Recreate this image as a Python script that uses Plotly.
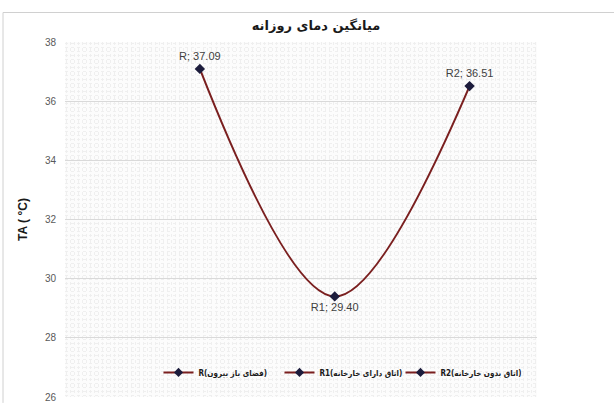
import plotly.graph_objects as go

categories = ["R", "R1", "R2"]
values = [37.09, 29.40, 36.51]
legend_names = ["R(فضای باز بیرون)", "R1(اتاق دارای خارخانه)", "R2(اتاق بدون خارخانه)"]
y_ticks = [26, 28, 30, 32, 34, 36, 38]
title_text = "میانگین دمای روزانه"
y_title = "TA ( °C)"

line_color = "#7a1f1f"
marker_color = "#1c1c3c"
font_fam = "Liberation Sans, DejaVu Sans, sans-serif"

x_pos = list(range(len(categories)))
labels = [f"{c}; {v:.2f}" for c, v in zip(categories, values)]
positions = ["top center", "bottom center", "top center"]

fig = go.Figure()
fig.add_trace(go.Scatter(
    x=x_pos, y=values, mode="lines+markers+text",
    line=dict(color=line_color, width=2, shape="spline", smoothing=1.0),
    marker=dict(symbol="diamond", size=8, color=marker_color),
    text=labels, textposition=positions,
    textfont=dict(size=11, color="#404040", family=font_fam),
    showlegend=False, cliponaxis=False,
))
for name in legend_names:
    fig.add_trace(go.Scatter(
        x=[None], y=[None], mode="lines+markers", name=name,
        line=dict(color=line_color, width=2),
        marker=dict(symbol="diamond", size=7, color=marker_color),
    ))

L, R, T, B = 65, 77, 42, 6
W, H = 614, 409
pw, ph = W - L - R, H - T - B

def px2x(px):
    return (px - L) / pw

def py2y(py):
    return (H - B - py) / ph

fig.update_layout(
    width=W, height=H,
    margin=dict(l=L, r=R, t=T, b=B),
    paper_bgcolor="white", plot_bgcolor="#fcfcfc",
    title=dict(text=title_text, x=px2x(316), xref="paper", xanchor="center",
               y=1 - 25 / H, yanchor="middle",
               font=dict(size=13, color="#1a1a1a", family="DejaVu Sans", weight="bold")),
    xaxis=dict(range=[-1, 2.5], showticklabels=False, ticks="",
               showgrid=False, zeroline=False, showline=False,
               minor=dict(dtick=0.03, tick0=0, showgrid=True, gridcolor="#efefef", griddash="dot", gridwidth=1)),
    yaxis=dict(range=[26, 38], tickvals=y_ticks, ticks="", showline=False,
               gridcolor="#d9d9d9", gridwidth=1, zeroline=False,
               tickfont=dict(size=10, color="#595959", family=font_fam),
               ticklabelstandoff=8,
               title=dict(text=y_title, standoff=14,
                          font=dict(size=12, color="#1a1a1a", family=font_fam, weight="bold")),
               minor=dict(dtick=0.135, showgrid=True, gridcolor="#efefef", griddash="dot", gridwidth=1)),
    legend=dict(orientation="h", x=px2x(340), xanchor="center", y=py2y(378), yanchor="middle",
                bgcolor="rgba(0,0,0,0)",
                font=dict(size=8, color="#1a1a1a", family="DejaVu Sans Condensed, DejaVu Sans", weight="bold"),
                itemwidth=30, entrywidth=76, tracegroupgap=0),
    shapes=[
        dict(type="line", xref="paper", yref="paper", x0=px2x(3), x1=px2x(614), y0=py2y(12), y1=py2y(12),
             line=dict(color="#d0d0d0", width=1)),
        dict(type="line", xref="paper", yref="paper", x0=px2x(3), x1=px2x(3), y0=py2y(12), y1=py2y(409),
             line=dict(color="#d0d0d0", width=1)),
    ],
)
fig.write_html("out.html")
